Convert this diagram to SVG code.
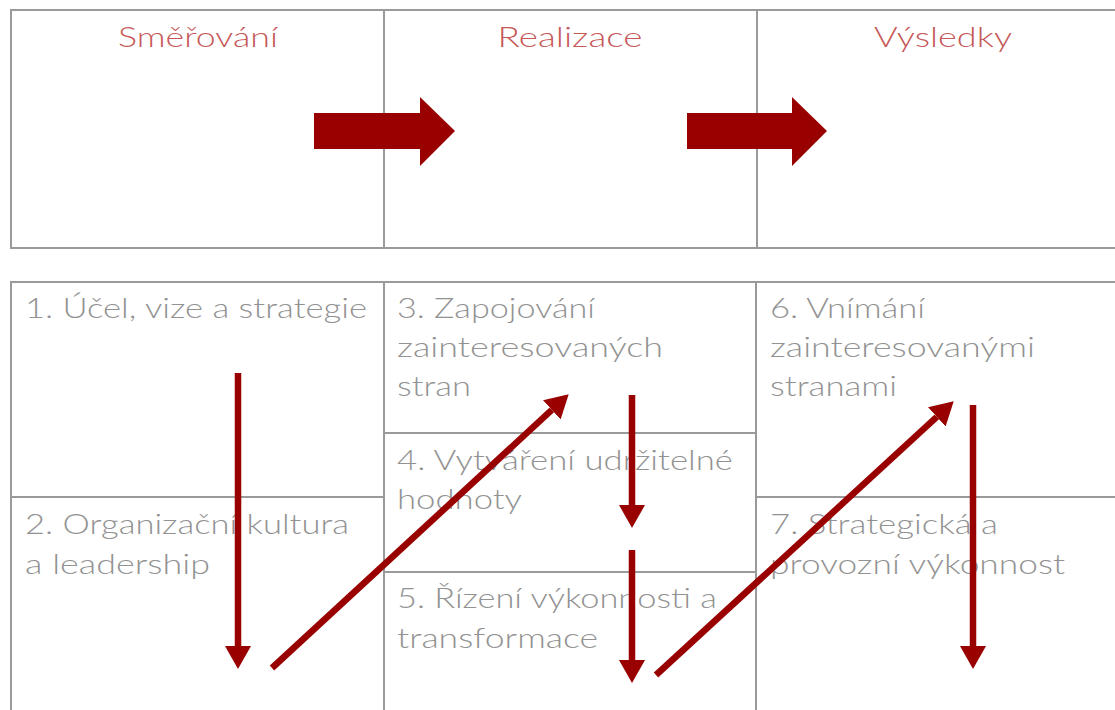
<svg xmlns="http://www.w3.org/2000/svg" width="1115" height="710" viewBox="0 0 1115 710">
<style>
.grid{fill:none;stroke:#9a9a9a;stroke-width:2}
.hdr{font-family:Lato,"Liberation Sans",sans-serif;font-weight:300;font-size:28px;fill:#c65858;text-anchor:middle}
.lbl{font-family:Lato,"Liberation Sans",sans-serif;font-weight:300;font-size:27px;fill:#929292}
.big{fill:#990000}
.flow{stroke:#990000;stroke-width:6.5;fill:none;marker-end:url(#ah)}
</style>
<defs>
<marker id="ah" markerUnits="userSpaceOnUse" markerWidth="24" markerHeight="26" refX="0" refY="13" orient="auto" viewBox="0 0 24 26">
<path d="M0,0 L23,13 L0,26 z" fill="#990000"/>
</marker>
</defs>
<rect width="1115" height="710" fill="#ffffff"/>
<g id="phases">
<rect class="grid" x="11" y="10" width="1120" height="238"/>
<line class="grid" x1="384" y1="10" x2="384" y2="248"/>
<line class="grid" x1="757" y1="10" x2="757" y2="248"/>
<g id="h-smerovani"><text class="hdr" x="198" y="47" textLength="160" lengthAdjust="spacingAndGlyphs">Směřování</text></g>
<g id="h-realizace"><text class="hdr" x="570" y="47" textLength="145" lengthAdjust="spacingAndGlyphs">Realizace</text></g>
<g id="h-vysledky"><text class="hdr" x="943" y="47" textLength="138" lengthAdjust="spacingAndGlyphs">Výsledky</text></g>
<polygon class="big" points="314,113 420,113 420,97 455,131 420,166 420,149 314,149"/>
<polygon class="big" points="687,113 792,113 792,97 827,131 792,166 792,149 687,149"/>
</g>
<g id="table">
<rect class="grid" x="11" y="282" width="1120" height="440"/>
<line class="grid" x1="384" y1="282" x2="384" y2="720"/>
<line class="grid" x1="756" y1="282" x2="756" y2="720"/>
<line class="grid" x1="11" y1="497" x2="384" y2="497"/>
<line class="grid" x1="384" y1="433" x2="756" y2="433"/>
<line class="grid" x1="384" y1="572" x2="756" y2="572"/>
<line class="grid" x1="756" y1="497" x2="1131" y2="497"/>
</g>
<g id="n1"><text class="lbl" x="25" y="318" textLength="342" lengthAdjust="spacingAndGlyphs">1. Účel, vize a strategie</text></g>
<g id="n2"><text class="lbl" x="25" y="534" textLength="324" lengthAdjust="spacingAndGlyphs">2. Organizační kultura</text><text class="lbl" x="25" y="574" textLength="185" lengthAdjust="spacingAndGlyphs">a leadership</text></g>
<g id="n3"><text class="lbl" x="397" y="318" textLength="198" lengthAdjust="spacingAndGlyphs">3. Zapojování</text><text class="lbl" x="397" y="357" textLength="266" lengthAdjust="spacingAndGlyphs">zainteresovaných</text><text class="lbl" x="397" y="396" textLength="74" lengthAdjust="spacingAndGlyphs">stran</text></g>
<g id="n4"><text class="lbl" x="397" y="470" textLength="336" lengthAdjust="spacingAndGlyphs">4. Vytváření udržitelné</text><text class="lbl" x="397" y="509" textLength="125" lengthAdjust="spacingAndGlyphs">hodnoty</text></g>
<g id="n5"><text class="lbl" x="397" y="608" textLength="320" lengthAdjust="spacingAndGlyphs">5. Řízení výkonnosti a</text><text class="lbl" x="397" y="648" textLength="201" lengthAdjust="spacingAndGlyphs">transformace</text></g>
<g id="n6"><text class="lbl" x="770" y="318" textLength="155" lengthAdjust="spacingAndGlyphs">6. Vnímání</text><text class="lbl" x="770" y="357" textLength="265" lengthAdjust="spacingAndGlyphs">zainteresovanými</text><text class="lbl" x="770" y="396" textLength="127" lengthAdjust="spacingAndGlyphs">stranami</text></g>
<g id="n7"><text class="lbl" x="770" y="534" textLength="228" lengthAdjust="spacingAndGlyphs">7. Strategická a</text><text class="lbl" x="770" y="574" textLength="295" lengthAdjust="spacingAndGlyphs">provozní výkonnost</text></g>
<g id="connectors">
<line class="flow" x1="238" y1="373" x2="238" y2="646"/>
<line class="flow" x1="272" y1="668" x2="551.8" y2="409.9"/>
<line class="flow" x1="632" y1="395" x2="632" y2="505"/>
<line class="flow" x1="632" y1="550" x2="632" y2="660"/>
<line class="flow" x1="656" y1="675" x2="936.8" y2="416.9"/>
<line class="flow" x1="973" y1="405" x2="973" y2="646"/>
</g>
</svg>
